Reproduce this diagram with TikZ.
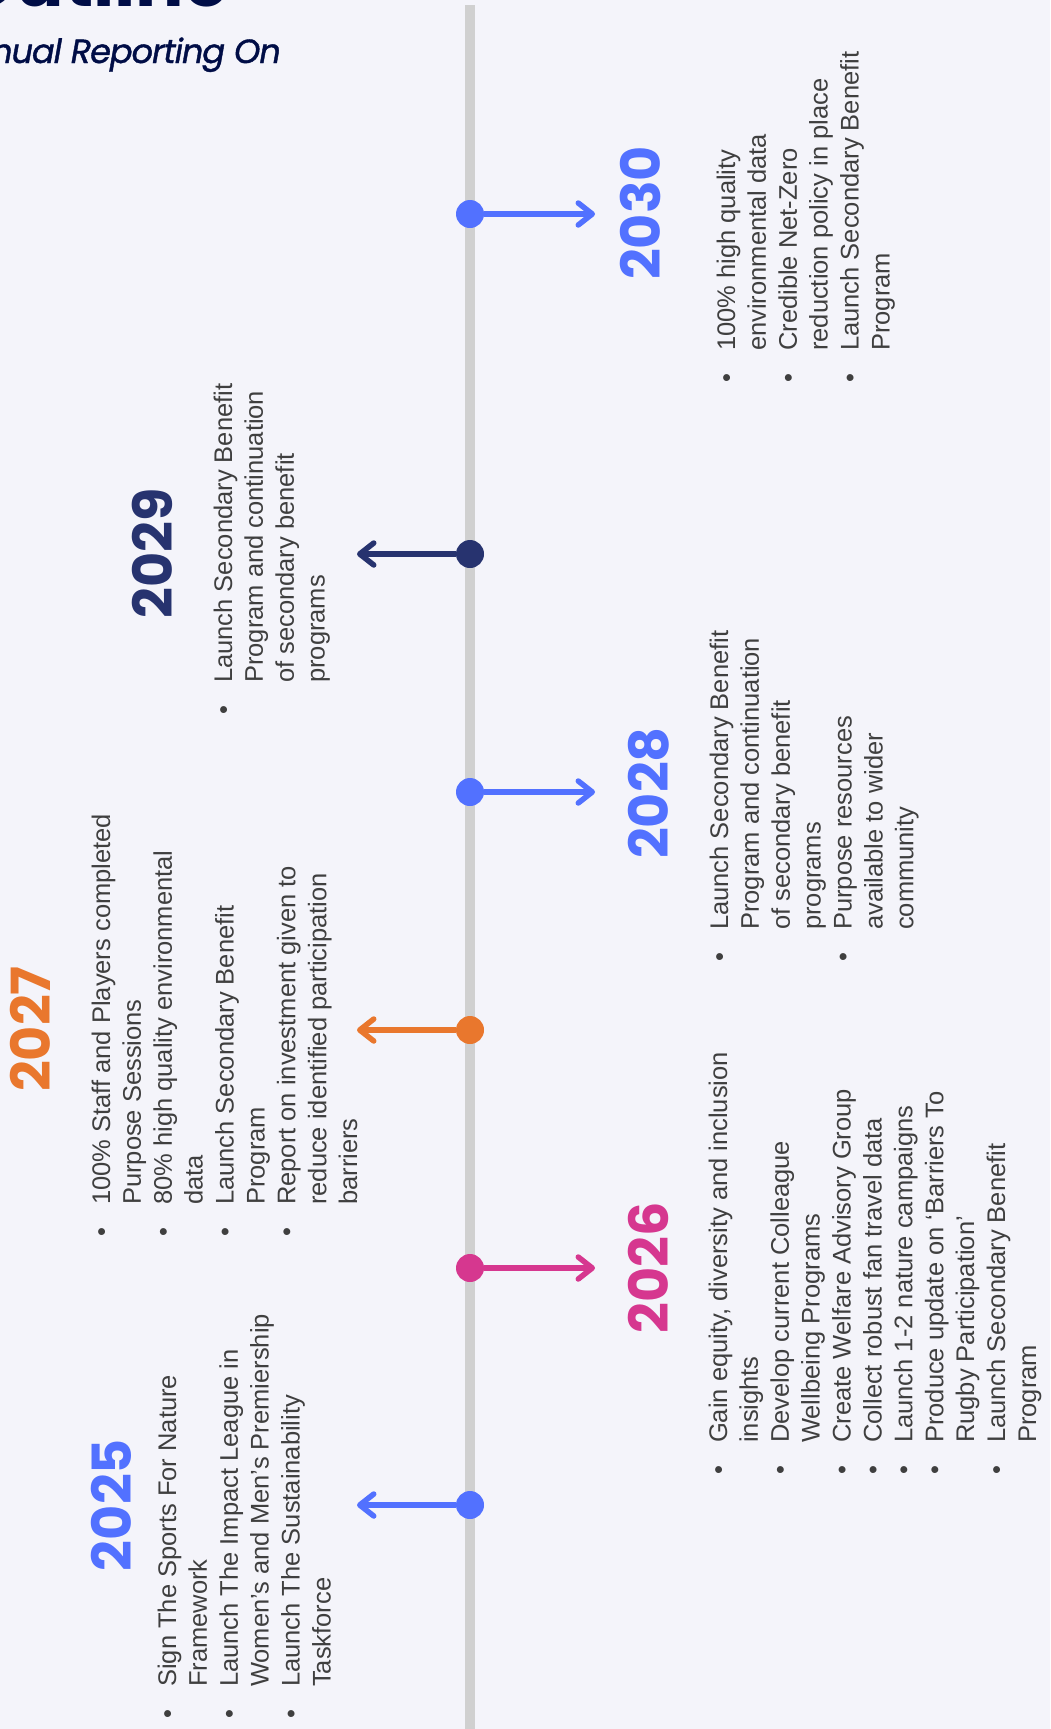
\documentclass[tikz,border=0pt]{standalone}
\usepackage{fontspec}
\setmainfont{Liberation Sans}
\newfontfamily\popfont{Poppins}
\newfontfamily\popsub{Poppins}[FakeBold=1.2,LetterSpace=-3]
\usetikzlibrary{arrows.meta}
\definecolor{bgc}{HTML}{F4F4FA}
\definecolor{axisc}{HTML}{D0D0D0}
\definecolor{blueC}{HTML}{5271FF}
\definecolor{navyC}{HTML}{27336F}
\definecolor{orangeC}{HTML}{E9772D}
\definecolor{pinkC}{HTML}{D6378F}
\definecolor{titleC}{HTML}{000D46}
\definecolor{bodyC}{HTML}{3F3F3F}
\newcommand\yearfnt{\popfont\bfseries\fontsize{54}{60}\selectfont}
\newcommand\itemfnt{\fontsize{25.5}{30.9}\selectfont}
\newcommand\itm{\makebox[0pt][c]{\textbullet}\hspace{27pt}}
\newcommand\cnt{\hspace{27pt}}
\tikzset{
  tdot/.style={circle, fill=#1, minimum size=28pt, inner sep=0pt},
  tconn/.style={draw=#1, line width=5.5pt, -{Straight Barb[length=14pt,width=22pt,round]}},
  yearlbl/.style={rotate=90, anchor=base, inner sep=0pt, text=#1, font=\yearfnt},
  items/.style={rotate=90, anchor=base west, inner sep=0pt, text=bodyC, font=\itemfnt},
}
\begin{document}
\begin{tikzpicture}[x=1pt,y=-1pt]
\fill[bgc] (0,0) rectangle (1050,1729);
\clip (0,0) rectangle (1050,1729);
% title (cut off)
\node[anchor=base east, inner sep=0pt, text=titleC, font=\popfont\bfseries\fontsize{72}{80}\selectfont] (title) at (229,6) {Outline};
\node[anchor=base east, inner sep=0pt, text=titleC, font=\popsub\itshape\fontsize{33.5}{40}\selectfont] (subtitle) at (281,63) {Annual Reporting On};
% axis
\coordinate (axtop) at (470,5);
\coordinate (axbot) at (470,1740);
\draw[axisc, line width=10pt] (axtop) -- (axbot);
% dots
\node[tdot=blueC]   (d2030) at (470,214) {};
\node[tdot=navyC]   (d2029) at (470,554) {};
\node[tdot=blueC]   (d2028) at (470,792) {};
\node[tdot=orangeC] (d2027) at (470,1030) {};
\node[tdot=pinkC]   (d2026) at (470,1268) {};
\node[tdot=blueC]   (d2025) at (470,1505) {};
% arrow ends
\coordinate (e2030) at (595,214);
\coordinate (e2029) at (357,554);
\coordinate (e2028) at (595,792);
\coordinate (e2027) at (357,1030);
\coordinate (e2026) at (595,1268);
\coordinate (e2025) at (357,1505);
\draw[tconn=blueC]   (d2030.east) -- (e2030);
\draw[tconn=navyC]   (d2029.west) -- (e2029);
\draw[tconn=blueC]   (d2028.east) -- (e2028);
\draw[tconn=orangeC] (d2027.west) -- (e2027);
\draw[tconn=pinkC]   (d2026.east) -- (e2026);
\draw[tconn=blueC]   (d2025.west) -- (e2025);
% years
\node[yearlbl=blueC]   (y2030) at (660,213) {2030};
\node[yearlbl=navyC]   (y2029) at (172,553) {2029};
\node[yearlbl=blueC]   (y2028) at (668,793) {2028};
\node[yearlbl=orangeC] (y2027) at (50,1029) {2027};
\node[yearlbl=pinkC]   (y2026) at (668,1268) {2026};
\node[yearlbl=blueC]   (y2025) at (131,1505) {2025};
% item lists
\node[items] (l2030) at (735,378) {\begin{tabular}[t]{@{}l@{}}
\itm 100\% high quality\\
\cnt environmental data\\
\itm Credible Net-Zero\\
\cnt reduction policy in place\\
\itm Launch Secondary Benefit\\
\cnt Program
\end{tabular}};
\node[items] (l2029) at (232,710) {\begin{tabular}[t]{@{}l@{}}
\itm Launch Secondary Benefit\\
\cnt Program and continuation\\
\cnt of secondary benefit\\
\cnt programs
\end{tabular}};
\node[items] (l2028) at (728,957) {\begin{tabular}[t]{@{}l@{}}
\itm Launch Secondary Benefit\\
\cnt Program and continuation\\
\cnt of secondary benefit\\
\cnt programs\\
\itm Purpose resources\\
\cnt available to wider\\
\cnt community
\end{tabular}};
\node[items] (l2027) at (110,1232) {\begin{tabular}[t]{@{}l@{}}
\itm 100\% Staff and Players completed\\
\cnt Purpose Sessions\\
\itm 80\% high quality environmental\\
\cnt data\\
\itm Launch Secondary Benefit\\
\cnt Program\\
\itm Report on investment given to\\
\cnt reduce identified participation\\
\cnt barriers
\end{tabular}};
\node[items] (l2026) at (727,1470) {\begin{tabular}[t]{@{}l@{}}
\itm Gain equity, diversity and inclusion\\
\cnt insights\\
\itm Develop current Colleague\\
\cnt Wellbeing Programs\\
\itm Create Welfare Advisory Group\\
\itm Collect robust fan travel data\\
\itm Launch 1-2 nature campaigns\\
\itm Produce update on ‘Barriers To\\
\cnt Rugby Participation’\\
\itm Launch Secondary Benefit\\
\cnt Program
\end{tabular}};
\node[items] (l2025) at (176,1714) {\begin{tabular}[t]{@{}l@{}}
\itm Sign The Sports For Nature\\
\cnt Framework\\
\itm Launch The Impact League in\\
\cnt Women’s and Men’s Premiership\\
\itm Launch The Sustainability\\
\cnt Taskforce
\end{tabular}};
\end{tikzpicture}
\end{document}
